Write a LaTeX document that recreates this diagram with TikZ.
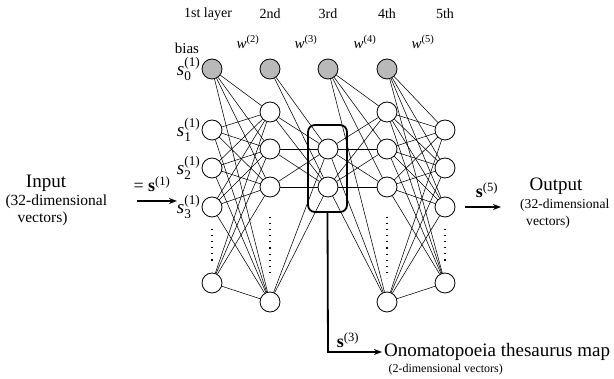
\documentclass[tikz,border=0pt]{standalone}
\usepackage{amsmath}
\usepackage{fontspec}
\setmainfont{Liberation Serif}
\usetikzlibrary{arrows.meta}
\newcommand{\fsz}[1]{\fontsize{#1}{#1}\selectfont}
\newcommand{\slab}[1]{\textit{s}$^{\text{(1)}}_{\text{#1}}$}
\begin{document}
\begin{tikzpicture}[x=1pt,y=-1pt,
  neuron/.style={circle,draw,line width=0.8pt,minimum size=20pt,inner sep=0pt,fill=white},
  biasn/.style={neuron,fill=gray!55},
  conn/.style={line width=0.55pt},
  thick2/.style={line width=1.8pt},
  tip/.style={-{Stealth[length=8pt,width=6pt]}},
  head/.style={font=\fsz{14}},
  wlab/.style={font=\fsz{15}},
  big/.style={font=\fsz{19}},
  mid/.style={font=\fsz{15.5}},
  small/.style={font=\fsz{12}},
  slabel/.style={font=\fsz{19},anchor=east,inner sep=1pt},
  vdots/.style={line width=1.1pt,dash pattern=on 1.1pt off 5pt}]
\useasboundingbox (0,0) rectangle (614,379);
% layer 1
\node[biasn] (a0) at (212,69) {};
\node[neuron] (a1) at (212,130) {};
\node[neuron] (a2) at (212,168) {};
\node[neuron] (a3) at (212,207) {};
\node[neuron] (a4) at (212,283) {};
% layer 2
\node[biasn] (b0) at (270,69) {};
\node[neuron] (b1) at (270,112) {};
\node[neuron] (b2) at (270,149) {};
\node[neuron] (b3) at (270,187) {};
\node[neuron] (b4) at (270,302) {};
% layer 3
\node[biasn] (c0) at (328,69) {};
\node[neuron] (c1) at (328,149) {};
\node[neuron] (c2) at (328,187) {};
% layer 4
\node[biasn] (d0) at (387,69) {};
\node[neuron] (d1) at (387,112) {};
\node[neuron] (d2) at (387,149) {};
\node[neuron] (d3) at (387,187) {};
\node[neuron] (d4) at (387,302) {};
% layer 5
\node[neuron] (e1) at (445,130) {};
\node[neuron] (e2) at (445,168) {};
\node[neuron] (e3) at (445,207) {};
\node[neuron] (e4) at (445,283) {};
% connections
\foreach \i in {0,...,4}{\foreach \j in {1,...,4}{\draw[conn] (a\i) -- (b\j);}}
\foreach \i in {0,...,4}{\foreach \j in {1,2}{\draw[conn] (b\i) -- (c\j);}}
\foreach \i in {0,1,2}{\foreach \j in {1,...,4}{\draw[conn] (c\i) -- (d\j);}}
\foreach \i in {0,...,4}{\foreach \j in {1,...,4}{\draw[conn] (d\i) -- (e\j);}}
% dots
\coordinate (da1) at (212,229); \coordinate (da2) at (212,264);
\coordinate (db1) at (270,217); \coordinate (db2) at (270,278);
\coordinate (dd1) at (387,217); \coordinate (dd2) at (387,278);
\coordinate (de1) at (445,229); \coordinate (de2) at (445,264);
\draw[vdots] (da1) -- (da2);
\draw[vdots] (db1) -- (db2);
\draw[vdots] (dd1) -- (dd2);
\draw[vdots] (de1) -- (de2);
% box round layer 3
\node[draw,thick2,rounded corners=7pt,minimum width=39pt,minimum height=87pt,inner sep=0pt] (box) at (327.5,168.5) {};
% headers
\node[head] (h1) at (208,14) {1st layer};
\node[head] (h2) at (270,14) {2nd};
\node[head] (h3) at (328,14) {3rd};
\node[head] (h4) at (387,14) {4th};
\node[head] (h5) at (445,14) {5th};
\node[wlab] (bias) at (187,48) {bias};
\node[wlab] (w2) at (248,42) {\textit{w}$^{\text{(2)}}$};
\node[wlab] (w3) at (306,42) {\textit{w}$^{\text{(3)}}$};
\node[wlab] (w4) at (365,42) {\textit{w}$^{\text{(4)}}$};
\node[wlab] (w5) at (423,42) {\textit{w}$^{\text{(5)}}$};
% s labels
\node[slabel] (s0) at (a0.west) {\slab{0}};
\node[slabel] (s1) at (a1.west) {\slab{1}};
\node[slabel] (s2) at (a2.west) {\slab{2}};
\node[slabel] (s3) at (a3.west) {\slab{3}};
% input
\node[big] (inp) at (46,183) {Input};
\node[mid,anchor=west] (inp2) at (2,202) {(32-dimensional};
\node[mid,anchor=west] (inp3) at (14,219) {vectors)};
\coordinate (ia) at (137,201);
\coordinate (ib) at (177,201);
\draw[thick2,tip] (ia) -- (ib);
\node[font=\fsz{18}] (s1lab) at (152,184) {= \textbf{s}$^{\text{(1)}}$};
% output
\coordinate (oa) at (465,207);
\coordinate (ob) at (501,207);
\draw[thick2,tip] (oa) -- (ob);
\node[font=\fsz{18}] (s5lab) at (487,190) {\textbf{s}$^{\text{(5)}}$};
\node[big] (out) at (556,186) {Output};
\node[font=\fsz{13.6},anchor=west,inner sep=1pt] (out2) at (519,205) {(32-dimensional};
\node[font=\fsz{13.6},anchor=west,inner sep=1pt] (out3) at (525,222) {vectors)};
% thesaurus map
\coordinate (m1) at (328,352);
\coordinate (m2) at (382,352);
\draw[thick2,tip] (box.south) -- (m1) -- (m2);
\node[font=\fsz{18}] (s3lab) at (348,340) {\textbf{s}$^{\text{(3)}}$};
\node[big,anchor=west,inner sep=1pt] (map) at (383,352) {Onomatopoeia thesaurus map};
\node[small,anchor=west] (map2) at (385,370) {(2-dimensional vectors)};
\end{tikzpicture}
\end{document}
